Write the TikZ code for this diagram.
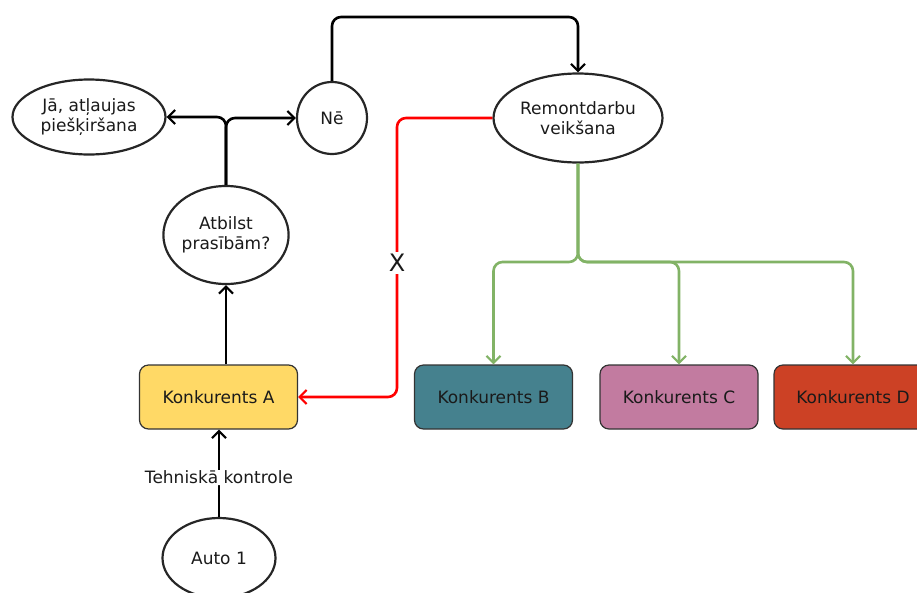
\documentclass[tikz,border=0pt]{standalone}
\usepackage{fontspec}
\setmainfont{DejaVu Sans}
\usetikzlibrary{arrows.meta,shapes.geometric}
\definecolor{txt}{HTML}{1A1A1A}
\definecolor{yel}{HTML}{FFD966}
\definecolor{teal}{HTML}{45818E}
\definecolor{pink}{HTML}{C27BA0}
\definecolor{rust}{HTML}{CC4125}
\definecolor{grn}{HTML}{82B366}
\tikzset{
  ell/.style={ellipse, draw=black!85, line width=2.2pt, fill=white, align=center, inner sep=0pt, text=txt},
  box/.style={rectangle, rounded corners=9pt, draw=black!80, line width=1.2pt, minimum width=158pt, minimum height=64pt, text=txt},
  conn/.style={line width=2.6pt, rounded corners=9pt, -{Straight Barb[length=7pt,width=14pt,line width=2.2pt]}},
  lbl/.style={fill=white, text=txt, inner sep=1pt},
}
\begin{document}
\begin{tikzpicture}[x=1pt,y=-1pt,font=\fontsize{17}{20}\selectfont]
\useasboundingbox (0,0) rectangle (917,592);
\begin{scope}
\clip (0,0) rectangle (917,592);
\node[ell, minimum width=153pt, minimum height=75pt] (ja) at (89,117) {Jā, atļaujas\\piešķiršana};
\node[ell, minimum width=70pt, minimum height=72pt] (ne) at (332,118) {Nē};
\node[ell, minimum width=169pt, minimum height=89pt] (rem) at (578,118) {Remontdarbu\\veikšana};
\node[ell, minimum width=121pt, minimum height=98pt] (atb) at (226,235) {Atbilst\\prasībām?};
\node[box, fill=yel] (ka) at (218.5,397) {Konkurents A};
\node[box, fill=teal] (kb) at (493.5,397) {Konkurents B};
\node[box, fill=pink] (kc) at (679,397) {Konkurents C};
\node[box, fill=rust] (kd) at (853,397) {Konkurents D};
\node[ell, minimum width=113pt, minimum height=80pt] (auto) at (219,558) {Auto 1};

% Auto 1 -> Konkurents A
\draw[conn] (auto.north) -- node[lbl, pos=0.45] {Tehniskā kontrole} (ka.south -| auto.north);
% Konkurents A -> Atbilst
\draw[conn] (ka.north -| atb.south) -- (atb.south);
% Atbilst -> Jā / Nē
\draw[conn] (atb.north) |- (ja.east);
\draw[conn] (atb.north) |- (ne.west);
% Nē -> Remontdarbu
\coordinate (top) at (0,17);
\draw[conn] (ne.north) -- (ne.north |- top) -- (rem.north |- top) -- (rem.north);
% Remontdarbu -> Konkurents A (red)
\coordinate (rx) at (397,0);
\draw[conn, draw=red] (rem.west) -- (rem.west -| rx) -- (ka.east -| rx) -- (ka.east);
\node[fill=white, inner sep=2pt, font=\fontsize{24}{28}\selectfont, text=txt] (xl) at (397,263) {X};
% Remontdarbu -> B, C, D (green)
\coordinate (gy) at (0,262);
\draw[conn, draw=grn] (rem.south) -- (rem.south |- gy) -- (kb.north |- gy) -- (kb.north);
\draw[conn, draw=grn] (rem.south) -- (rem.south |- gy) -- (kc.north |- gy) -- (kc.north);
\draw[conn, draw=grn] (rem.south) -- (rem.south |- gy) -- (kd.north |- gy) -- (kd.north);
\end{scope}
\end{tikzpicture}
\end{document}
